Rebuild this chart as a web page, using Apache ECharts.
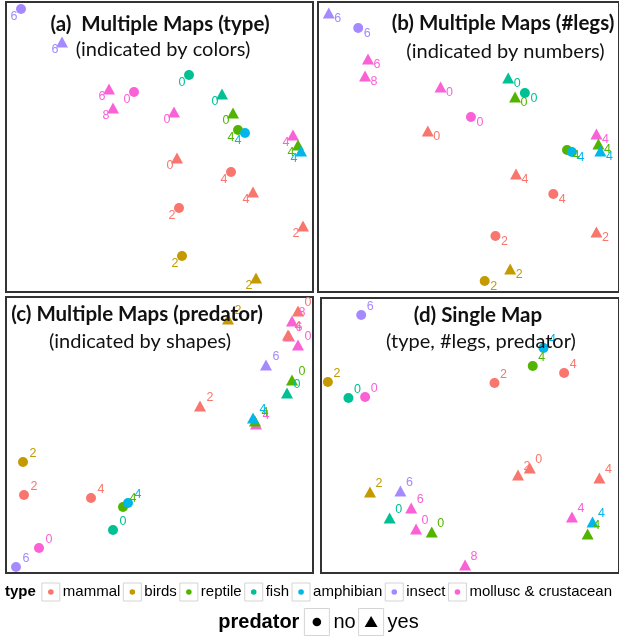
<!DOCTYPE html>
<html><head><meta charset="utf-8">
<script src="https://cdn.jsdelivr.net/npm/echarts@6/dist/echarts.min.js"></script>
<style>html,body{margin:0;padding:0;background:#fff}#c{width:619px;height:639px}</style>
</head><body><div id="c"></div>
<script>
// ---- data ----
const typeNames = ['mammal', 'birds', 'reptile', 'fish', 'amphibian', 'insect', 'mollusc & crustacean'];
const typeColors = ['#F8766D', '#C49A00', '#53B400', '#00C094', '#00B6EB', '#A58AFF', '#FB61D7'];
// 21 animals
const animalType = [6, 6, 6, 6, 6, 0, 0, 0, 0, 0, 1, 1, 2, 2, 2, 3, 3, 4, 4, 5, 5];
const legs       = [0, 0, 4, 6, 8, 2, 4, 0, 2, 4, 2, 2, 0, 4, 4, 0, 0, 4, 4, 6, 6];
const predator   = [0, 1, 1, 1, 1, 0, 0, 1, 1, 1, 0, 1, 1, 0, 1, 0, 1, 0, 1, 0, 1];
// map coordinates of each animal in the four maps
const mapA_x = [128, 168, 287, 103, 107, 173, 225, 171, 297, 247, 176, 250, 227, 232, 292, 183, 216, 239, 295, 15, 56];
const mapA_y = [200, 180, 157, 203, 184, 84, 120, 134, 66, 100, 36, 14, 179, 162, 147, 217, 198, 159, 141, 283, 250];
const mapB_x = [156, 125, 284, 51, 48, 181, 240, 112, 284, 202, 170, 196, 201, 254, 286, 211, 194, 259, 288, 41, 11];
const mapB_y = [175, 205, 158, 233, 216, 56, 98, 161, 60, 118, 11, 23, 195, 142, 148, 199, 214, 140, 141, 264, 279];
const mapC_x = [33, 292, 250, 283, 286, 18, 85, 292, 194, 282, 17, 222, 286, 117, 249, 107, 281, 122, 247, 10, 260];
const mapC_y = [25, 228, 149, 237, 252, 78, 75, 262, 167, 238, 111, 254, 193, 66, 152, 43, 180, 70, 155, 6, 208];
const mapD_x = [45, 97, 256, 92, 147, 177, 248, 213, 201, 284, 7, 50, 113, 216, 272, 28, 70, 227, 277, 41, 81];
const mapD_y = [176, 44, 56, 65, 8, 190, 200, 105, 98, 95, 191, 81, 41, 207, 39, 175, 55, 225, 51, 258, 82];
const predatorNames = ['no', 'yes'];

// ---- layout ----
const panels = [
  {xs: mapA_x, ys: mapA_y, left: 6, top: 2, width: 307, height: 290, off: [-7, 8],
   t1: '(a)  Multiple Maps (type)', t2: '(indicated by colors)', c1: [160, 24], c2: [163, 50]},
  {xs: mapB_x, ys: mapB_y, left: 318, top: 2, width: 307, height: 290, off: [9, 6],
   t1: '(b) Multiple Maps (#legs)', t2: '(indicated by numbers)', c1: [503, 23], c2: [505.5, 52]},
  {xs: mapC_x, ys: mapC_y, left: 6, top: 297, width: 307, height: 276, off: [10, -8],
   t1: '(c) Multiple Maps (predator)', t2: '(indicated by shapes)', c1: [137, 314], c2: [140, 341.5]},
  {xs: mapD_x, ys: mapD_y, left: 321, top: 298, width: 304, height: 275, off: [9, -8],
   t1: '(d) Single Map', t2: '(type, #legs, predator)', c1: [478, 315], c2: [481, 341.5]}
];
const titleFont = 'Lato, "Open Sans", sans-serif';
const legendFont = '"Liberation Sans", Arial, sans-serif';

const grid = [], xAxis = [], yAxis = [], series = [], title = [];
panels.forEach((p, i) => {
  grid.push({left: p.left, top: p.top, width: p.width, height: p.height, show: true,
    borderColor: '#333', borderWidth: 2, backgroundColor: 'transparent'});
  xAxis.push({gridIndex: i, type: 'value', min: 0, max: p.width, show: false});
  yAxis.push({gridIndex: i, type: 'value', min: 0, max: p.height, show: false});
  series.push({
    type: 'scatter', xAxisIndex: i, yAxisIndex: i, clip: false,
    data: legs.map((l, k) => ({
      value: [p.xs[k], p.ys[k]],
      symbol: predator[k] ? 'triangle' : 'circle',
      symbolSize: predator[k] ? [12, 11] : 10,
      itemStyle: {color: typeColors[animalType[k]], opacity: 1},
      label: {show: true, formatter: String(l), position: 'inside', offset: p.off,
        color: typeColors[animalType[k]], fontSize: 12.5, fontFamily: legendFont}
    })),
    emphasis: {disabled: true}
  });
  title.push({text: p.t1, left: p.c1[0], top: p.c1[1] - 13, textAlign: 'center', padding: 0,
    textStyle: {fontSize: 20.5, fontWeight: 'bold', color: '#111', fontFamily: titleFont, lineHeight: 26}});
  title.push({text: p.t2, left: p.c2[0], top: p.c2[1] - 13, textAlign: 'center', padding: 0,
    textStyle: {fontSize: 20, fontWeight: 'normal', color: '#111', fontFamily: titleFont, lineHeight: 26}});
});

// ---- legend (drawn with graphic elements) ----
const ctx = document.createElement('canvas').getContext('2d');
function tw(text, font) { ctx.font = font; return ctx.measureText(text).width; }
const graphic = [];
(function () {
  const f1 = '15px ' + legendFont, f1b = 'bold 15px ' + legendFont;
  const box = 18, cy = 592;
  let w = tw('type', f1b) + 6;
  typeNames.forEach(n => { w += box + 3 + tw(n, f1) + 3; });
  let x = 310 - w / 2;
  graphic.push({type: 'text', x: x, y: cy, style: {text: 'type', font: f1b, fill: '#000', textVerticalAlign: 'middle'}});
  x += tw('type', f1b) + 6;
  typeNames.forEach((n, i) => {
    graphic.push({type: 'rect', shape: {x: x, y: cy - box / 2, width: box, height: box},
      style: {fill: '#fff', stroke: '#d4d4d4', lineWidth: 1}});
    graphic.push({type: 'circle', shape: {cx: x + box / 2, cy: cy, r: 2.8}, style: {fill: typeColors[i]}});
    x += box + 3;
    graphic.push({type: 'text', x: x, y: cy, style: {text: n, font: f1, fill: '#000', textVerticalAlign: 'middle'}});
    x += tw(n, f1) + 3;
  });
  // predator row
  const f2 = '20px ' + legendFont, f2b = 'bold 20px ' + legendFont;
  const cy2 = 622, bw = 25, bh = 27;
  let w2 = tw('predator', f2b) + 5;
  predatorNames.forEach(n => { w2 += bw + 4 + tw(n, f2) + 3; });
  let x2 = 320 - w2 / 2;
  graphic.push({type: 'text', x: x2, y: cy2, style: {text: 'predator', font: f2b, fill: '#000', textVerticalAlign: 'middle'}});
  x2 += tw('predator', f2b) + 5;
  predatorNames.forEach((n, i) => {
    graphic.push({type: 'rect', shape: {x: x2, y: cy2 - bh / 2, width: bw, height: bh},
      style: {fill: '#fff', stroke: '#d4d4d4', lineWidth: 1}});
    if (i === 0) {
      graphic.push({type: 'circle', shape: {cx: x2 + bw / 2, cy: cy2, r: 4.3}, style: {fill: '#000'}});
    } else {
      graphic.push({type: 'polygon', shape: {points: [[x2 + bw / 2, cy2 - 6], [x2 + bw / 2 + 6.5, cy2 + 5], [x2 + bw / 2 - 6.5, cy2 + 5]]}, style: {fill: '#000'}});
    }
    x2 += bw + 4;
    graphic.push({type: 'text', x: x2, y: cy2, style: {text: n, font: f2, fill: '#000', textVerticalAlign: 'middle'}});
    x2 += tw(n, f2) + 3;
  });
})();

const chart = echarts.init(document.getElementById('c'), null, {renderer: 'canvas'});
chart.setOption({animation: false, backgroundColor: '#fff', grid, xAxis, yAxis, series, title, graphic});
</script></body></html>
